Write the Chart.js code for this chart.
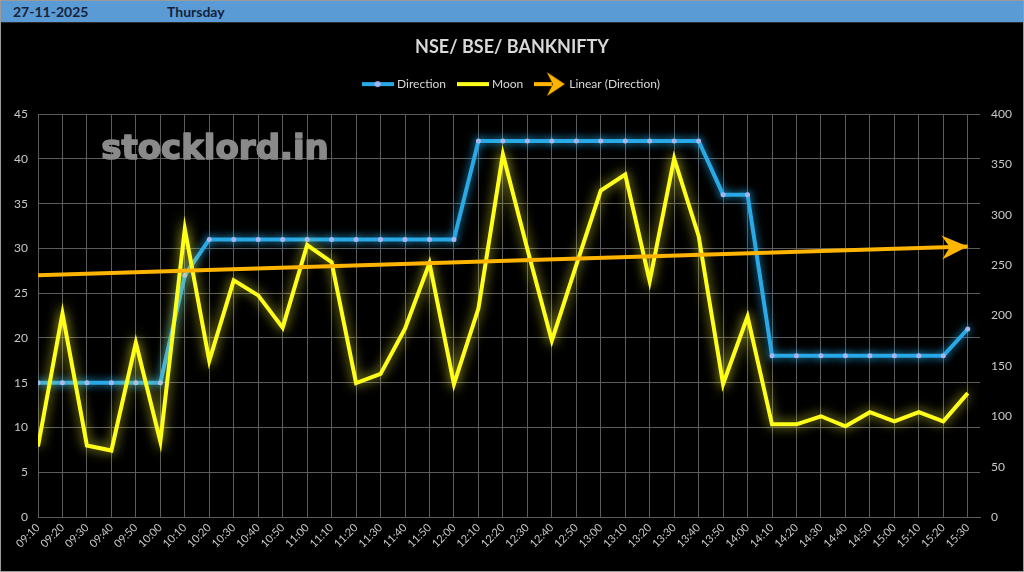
<!DOCTYPE html>
<html>
<head>
<meta charset="utf-8">
<title>NSE/ BSE/ BANKNIFTY</title>
<script src="https://cdn.jsdelivr.net/npm/chart.js@4.4.0/dist/chart.umd.min.js"></script>
<style>
  html, body { margin: 0; padding: 0; background: #000; }
  #frame {
    position: relative; width: 1024px; height: 572px; box-sizing: border-box;
    border: 1px solid #9a9a9a; background: #000; overflow: hidden;
  }
  #header {
    position: absolute; left: 0; top: 0; width: 1022px; height: 21px;
    background: #5b9bd5; border-bottom: 1px solid #2a2a2a;
    font: bold 14px Lato, "Open Sans", sans-serif; color: #16233a;
  }
  #header span { position: absolute; top: 2px; }
  #chart-box { position: absolute; left: 0; top: 22px; width: 1022px; height: 548px; }
</style>
</head>
<body>
<div id="frame">
  <div id="header"><span style="left:12px">27-11-2025</span><span style="left:166px">Thursday</span></div>
  <div id="chart-box"><canvas id="chart" width="1022" height="548"></canvas></div>
</div>
<script>
// x categories (10 minute steps)
const timeLabels = ['09:10','09:20','09:30','09:40','09:50','10:00','10:10','10:20','10:30','10:40',
    '10:50','11:00','11:10','11:20','11:30','11:40','11:50','12:00','12:10','12:20',
    '12:30','12:40','12:50','13:00','13:10','13:20','13:30','13:40','13:50','14:00',
    '14:10','14:20','14:30','14:40','14:50','15:00','15:10','15:20','15:30'];

// Direction (left axis)
const direction = [15, 15, 15, 15, 15, 15, 27, 31, 31, 31,
    31, 31, 31, 31, 31, 31, 31, 31, 42, 42,
    42, 42, 42, 42, 42, 42, 42, 42, 36, 36,
    18, 18, 18, 18, 18, 18, 18, 18, 21];

// Moon (right axis)
const moon = [70, 202, 71, 66, 173, 75, 286, 155, 235, 220,
    188, 270, 253, 133, 142, 187, 252, 132, 207, 360,
    266, 175, 250, 324, 340, 234, 356, 279, 132, 199,
    92, 92, 100, 90, 104, 95, 104, 95, 123];

// Linear (Direction) trendline, read at first and last category
const trendStart = 27.0;
const trendEnd = 30.2;

// axis ranges
const leftTicks = { min: 0, max: 45, step: 5 };
const rightTicks = { min: 0, max: 400, step: 50 };

const BLUE = '#29a9e6';
const YELLOW = '#ffff1a';
const ORANGE = '#ffb400';
const DOT = '#a9b6ee';
const TEXT = '#c8c8c8';
const GRID = '#5c5c5c';

// Legend icons drawn on small canvases
function makeIcon(w, h, draw) {
    const c = document.createElement('canvas');
    c.width = w; c.height = h;
    draw(c.getContext('2d'), w, h);
    return c;
}

function drawArrowHead(ctx, len, half, notch) {
    ctx.beginPath();
    ctx.moveTo(0, 0);
    ctx.lineTo(-len, -half);
    ctx.lineTo(-notch, 0);
    ctx.lineTo(-len, half);
    ctx.closePath();
    ctx.fill();
}

const legendIcons = [
    makeIcon(32, 10, (ctx, w, h) => {
        ctx.strokeStyle = BLUE; ctx.lineWidth = 4;
        ctx.beginPath(); ctx.moveTo(0, h / 2); ctx.lineTo(w, h / 2); ctx.stroke();
        ctx.fillStyle = DOT;
        ctx.beginPath(); ctx.arc(w / 2, h / 2, 3, 0, Math.PI * 2); ctx.fill();
    }),
    makeIcon(32, 10, (ctx, w, h) => {
        ctx.strokeStyle = YELLOW; ctx.lineWidth = 4;
        ctx.beginPath(); ctx.moveTo(0, h / 2); ctx.lineTo(w, h / 2); ctx.stroke();
    }),
    makeIcon(32, 26, (ctx, w, h) => {
        ctx.strokeStyle = ORANGE; ctx.fillStyle = ORANGE; ctx.lineWidth = 4;
        ctx.beginPath(); ctx.moveTo(0, h / 2); ctx.lineTo(w - 14, h / 2); ctx.stroke();
        ctx.save();
        ctx.translate(w - 1, h / 2);
        drawArrowHead(ctx, 18, 12, 12);
        ctx.restore();
    })
];

// Glow behind the lines
const glowPlugin = {
    id: 'glow',
    beforeDatasetDraw(chart, args) {
        const ds = chart.data.datasets[args.index];
        chart.ctx.save();
        if (ds.glowColor) {
            chart.ctx.shadowColor = ds.glowColor;
            chart.ctx.shadowBlur = ds.glowBlur || 8;
        }
    },
    afterDatasetDraw(chart, args) {
        chart.ctx.restore();
        const ds = chart.data.datasets[args.index];
        if (!ds.arrowEnd) return;
        // arrow head at the end of the trendline
        const pts = args.meta.data;
        const p0 = pts[0], p1 = pts[pts.length - 1];
        const ctx = chart.ctx;
        ctx.save();
        ctx.fillStyle = ds.borderColor;
        ctx.translate(p1.x, p1.y);
        ctx.rotate(Math.atan2(p1.y - p0.y, p1.x - p0.x));
        drawArrowHead(ctx, 26, 12, 18);
        ctx.restore();
    }
};

// Watermark text
const watermark = {
    id: 'watermark',
    beforeDatasetsDraw(chart) {
        const ctx = chart.ctx;
        ctx.save();
        ctx.font = 'bold 34px "DejaVu Sans", sans-serif';
        ctx.fillStyle = '#8a8a8a';
        ctx.strokeStyle = '#8a8a8a';
        ctx.lineWidth = 1.6;
        ctx.lineJoin = 'round';
        ctx.textAlign = 'center';
        ctx.textBaseline = 'middle';
        ctx.fillText('stocklord.in', 214, 127);
        ctx.strokeText('stocklord.in', 214, 127);
        ctx.restore();
    }
};

// extra room between the legend and the plot
const legendGap = {
    id: 'legendGap',
    beforeLayout(chart) {
        const lg = chart.legend;
        if (lg && !lg._gapped) {
            const fit = lg.fit;
            lg.fit = function () { fit.call(this); this.height += 14; };
            lg._gapped = true;
        }
    }
};

const ctx = document.getElementById('chart').getContext('2d');
new Chart(ctx, {
    type: 'line',
    data: {
        datasets: [
            {
                label: 'Direction',
                data: direction.map((v, i) => ({ x: i, y: v })),
                yAxisID: 'y',
                borderColor: BLUE,
                borderWidth: 4,
                pointRadius: 2.5,
                pointBackgroundColor: DOT,
                pointBorderWidth: 0,
                glowColor: 'rgba(41,169,230,0.9)',
                glowBlur: 8,
                tension: 0,
                order: 2
            },
            {
                label: 'Moon',
                data: moon.map((v, i) => ({ x: i, y: v })),
                yAxisID: 'y1',
                borderColor: YELLOW,
                borderWidth: 4,
                pointRadius: 0,
                glowColor: 'rgba(255,255,60,0.8)',
                glowBlur: 12,
                tension: 0,
                order: 1
            },
            {
                label: 'Linear (Direction)',
                data: [{ x: 0, y: trendStart }, { x: timeLabels.length - 1, y: trendEnd }],
                yAxisID: 'y',
                borderColor: ORANGE,
                borderWidth: 4,
                borderCapStyle: 'butt',
                pointRadius: 0,
                arrowEnd: true,
                tension: 0,
                order: 0
            }
        ]
    },
    options: {
        responsive: false,
        animation: false,
        devicePixelRatio: 1,
        layout: { padding: { top: 0, left: 0, right: 0, bottom: 0 } },
        plugins: {
            title: {
                display: true,
                text: 'NSE/ BSE/ BANKNIFTY',
                color: '#d9d9d9',
                font: { family: 'Lato', size: 18, weight: 'bold' },
                padding: { top: 13, bottom: 7.5 }
            },
            legend: {
                display: true,
                labels: {
                    color: '#d9d9d9',
                    font: { family: 'Lato', size: 12 },
                    padding: 13,
                    usePointStyle: true,
                    pointStyleWidth: 27,
                    generateLabels(chart) {
                        return chart.data.datasets.map((ds, i) => ({
                            text: ds.label,
                            fillStyle: ds.borderColor,
                            strokeStyle: ds.borderColor,
                            lineWidth: 0,
                            pointStyle: legendIcons[i],
                            fontColor: '#d9d9d9',
                            hidden: false,
                            datasetIndex: i
                        }));
                    }
                }
            },
            tooltip: { enabled: false }
        },
        scales: {
            x: {
                type: 'linear',
                min: 0,
                max: timeLabels.length - 0.5,
                afterBuildTicks(axis) {
                    axis.ticks = timeLabels.map((_, i) => ({ value: i }));
                },
                afterFit(axis) { axis.height = 54; },
                ticks: {
                    autoSkip: false,
                    minRotation: 45,
                    maxRotation: 45,
                    padding: 4,
                    color: TEXT,
                    font: { family: 'Lato', size: 11 },
                    callback: (v) => timeLabels[v]
                },
                grid: { color: GRID, lineWidth: 1, drawTicks: false },
                border: { color: GRID }
            },
            y: {
                position: 'left',
                min: leftTicks.min,
                max: leftTicks.max,
                afterFit(axis) { axis.width = 37; },
                ticks: {
                    stepSize: leftTicks.step,
                    padding: 10,
                    color: TEXT,
                    font: { family: 'Lato', size: 12 }
                },
                grid: { color: GRID, lineWidth: 1, drawTicks: false },
                border: { color: GRID }
            },
            y1: {
                position: 'right',
                min: rightTicks.min,
                max: rightTicks.max,
                afterFit(axis) { axis.width = 43; },
                ticks: {
                    stepSize: rightTicks.step,
                    padding: 11,
                    color: TEXT,
                    font: { family: 'Lato', size: 12 }
                },
                grid: { display: false, drawTicks: false },
                border: { display: false }
            }
        }
    },
    plugins: [glowPlugin, watermark, legendGap]
});
</script>
</body>
</html>
